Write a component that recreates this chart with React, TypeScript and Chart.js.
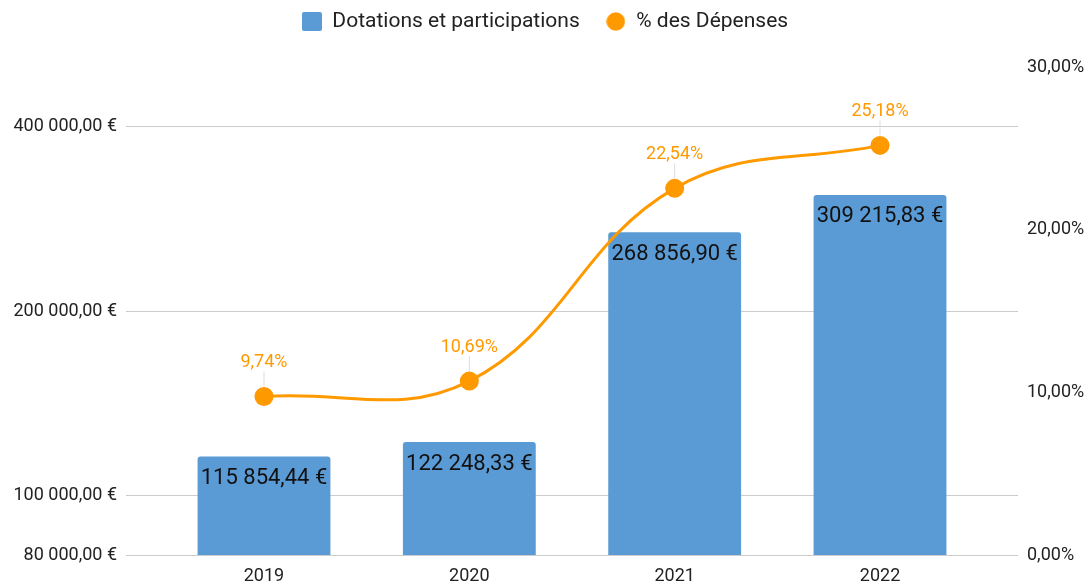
import React, { useEffect, useRef } from 'react';
import { Chart, registerables } from 'chart.js';

Chart.register(...registerables);

const categories = ['2019', '2020', '2021', '2022'];
const dotations = [115854.44, 122248.33, 268856.9, 309215.83];
const pctDepenses = [9.74, 10.69, 22.54, 25.18];
const leftTicks = [80000, 100000, 200000, 400000];
const rightTicks = [0, 10, 20, 30];

const FONT = 'Roboto, "Noto Sans", sans-serif';
const BAR_COLOR = '#5B9BD5';
const LINE_COLOR = '#FF9900';

function fmtFr(v: number, decimals = 2): string {
  const fixed = Math.abs(v).toFixed(decimals);
  const [intPart, dec] = fixed.split('.');
  const intS = intPart.replace(/\B(?=(\d{3})+(?!\d))/g, ' ');
  return (v < 0 ? '-' : '') + intS + (dec ? ',' + dec : '');
}
const fmtEuro = (v: number) => fmtFr(v) + ' €';
const fmtPct = (v: number) => fmtFr(v) + '%';

function makeSquareMarker(): HTMLCanvasElement {
  const c = document.createElement('canvas');
  c.width = 20;
  c.height = 19;
  const ctx = c.getContext('2d')!;
  ctx.fillStyle = BAR_COLOR;
  ctx.beginPath();
  (ctx as any).roundRect ? (ctx as any).roundRect(0, 0, 20, 19, 2) : ctx.rect(0, 0, 20, 19);
  ctx.fill();
  return c;
}
function makeCircleMarker(): HTMLCanvasElement {
  const c = document.createElement('canvas');
  c.width = 19;
  c.height = 19;
  const ctx = c.getContext('2d')!;
  ctx.fillStyle = LINE_COLOR;
  ctx.beginPath();
  ctx.arc(9.5, 9.5, 9.3, 0, Math.PI * 2);
  ctx.fill();
  return c;
}

const legendPatchPlugin = {
  id: 'legendPatch',
  beforeInit(chart: any) {
    const legend = chart.legend;
    if (!legend || legend._patched) return;
    const origFit = legend.fit;
    legend.fit = function () {
      origFit.call(this);
      this.height = 67;
    };
    const origDraw = legend.draw;
    legend.draw = function (...args: any[]) {
      const ctx = this.ctx;
      ctx.save();
      ctx.translate(0, -15);
      origDraw.apply(this, args);
      ctx.restore();
    };
    legend._patched = true;
  },
};

const valueLabelsPlugin = {
  id: 'valueLabels',
  afterDatasetsDraw(chart: any) {
    const ctx = chart.ctx;
    ctx.save();
    ctx.textAlign = 'center';
    ctx.textBaseline = 'middle';
    const barMeta = chart.getDatasetMeta(0);
    ctx.font = `22px ${FONT}`;
    ctx.fillStyle = '#111111';
    barMeta.data.forEach((el: any, i: number) => {
      ctx.fillText(fmtEuro(dotations[i]), el.x, el.y + 22);
    });
    const lineMeta = chart.getDatasetMeta(1);
    lineMeta.data.forEach((el: any, i: number) => {
      ctx.strokeStyle = '#dddddd';
      ctx.lineWidth = 1;
      ctx.beginPath();
      ctx.moveTo(el.x, el.y - 25);
      ctx.lineTo(el.x, el.y - 10);
      ctx.stroke();
      ctx.fillStyle = LINE_COLOR;
      ctx.font = `18px ${FONT}`;
      ctx.fillText(fmtPct(pctDepenses[i]), el.x, el.y - 34);
    });
    ctx.restore();
  },
};

export default function App() {
  const canvasRef = useRef<HTMLCanvasElement | null>(null);

  useEffect(() => {
    document.body.style.margin = '0';
    const canvas = canvasRef.current;
    if (!canvas) return;
    const legendMarkers = [makeSquareMarker(), makeCircleMarker()];
    const chart = new Chart(canvas, {
      type: 'bar',
      data: {
        datasets: [
          {
            type: 'bar',
            label: 'Dotations et participations',
            data: categories.map((_, i) => ({ x: i, y: dotations[i] })),
            backgroundColor: BAR_COLOR,
            borderRadius: 3,
            borderSkipped: 'bottom',
            categoryPercentage: 1,
            barPercentage: 0.647,
            yAxisID: 'y',
            xAxisID: 'x',
            order: 2,
          } as any,
          {
            type: 'line',
            label: '% des Dépenses',
            data: categories.map((_, i) => ({ x: i, y: pctDepenses[i] })),
            borderColor: LINE_COLOR,
            backgroundColor: LINE_COLOR,
            borderWidth: 3,
            tension: 0.4,
            pointRadius: 9.5,
            pointHoverRadius: 9.5,
            pointBorderWidth: 0,
            pointStyle: 'circle',
            yAxisID: 'y1',
            xAxisID: 'x',
            order: 1,
          } as any,
        ],
      },
      options: {
        animation: false,
        responsive: true,
        maintainAspectRatio: false,
        events: [],
        layout: { padding: 0 },
        plugins: {
          tooltip: { enabled: false },
          legend: {
            position: 'top',
            align: 'center',
            labels: {
              usePointStyle: true,
              boxWidth: 20,
              boxHeight: 19,
              padding: 26,
              color: '#222222',
              font: { family: FONT, size: 21 },
              generateLabels: (ch: any) => {
                const items = (Chart.defaults as any).plugins.legend.labels.generateLabels(ch);
                return items.map((it: any) => ({ ...it, pointStyle: legendMarkers[it.datasetIndex] }));
              },
              sort: (a: any, b: any) => a.datasetIndex - b.datasetIndex,
            },
          },
        },
        scales: {
          x: {
            type: 'linear',
            min: -0.672,
            max: 3.672,
            offset: false,
            grid: { display: false },
            border: { display: false },
            afterBuildTicks: (s: any) => {
              s.ticks = categories.map((_, i) => ({ value: i }));
            },
            ticks: {
              callback: (v: any) => categories[v] ?? '',
              font: { family: FONT, size: 18 },
              color: '#222222',
              padding: 3,
              maxRotation: 0,
              autoSkip: false,
            },
            afterFit: (s: any) => {
              s.height = 28;
            },
          },
          y: {
            type: 'logarithmic',
            position: 'left',
            min: 80000,
            max: 500000,
            afterBuildTicks: (s: any) => {
              s.ticks = leftTicks.map((v) => ({ value: v }));
            },
            ticks: {
              callback: (v: any) => fmtEuro(Number(v)),
              font: { family: FONT, size: 18 },
              color: '#222222',
              padding: 9,
              autoSkip: false,
            },
            grid: { color: '#cccccc', drawTicks: false, lineWidth: 1 },
            border: { display: false },
            afterFit: (s: any) => {
              s.width = 126;
            },
          },
          y1: {
            type: 'linear',
            position: 'right',
            min: 0,
            max: 30,
            afterBuildTicks: (s: any) => {
              s.ticks = rightTicks.map((v) => ({ value: v }));
            },
            ticks: {
              callback: (v: any) => fmtPct(Number(v)),
              font: { family: FONT, size: 18 },
              color: '#222222',
              padding: 9,
              autoSkip: false,
            },
            grid: { display: false, drawTicks: false },
            border: { display: false },
            afterFit: (s: any) => {
              s.width = 72;
            },
          },
        },
      } as any,
      plugins: [legendPatchPlugin, valueLabelsPlugin],
    });
    return () => chart.destroy();
  }, []);

  return (
    <div style={{ width: 1090, height: 583, position: 'relative' }}>
      <canvas ref={canvasRef} />
    </div>
  );
}
